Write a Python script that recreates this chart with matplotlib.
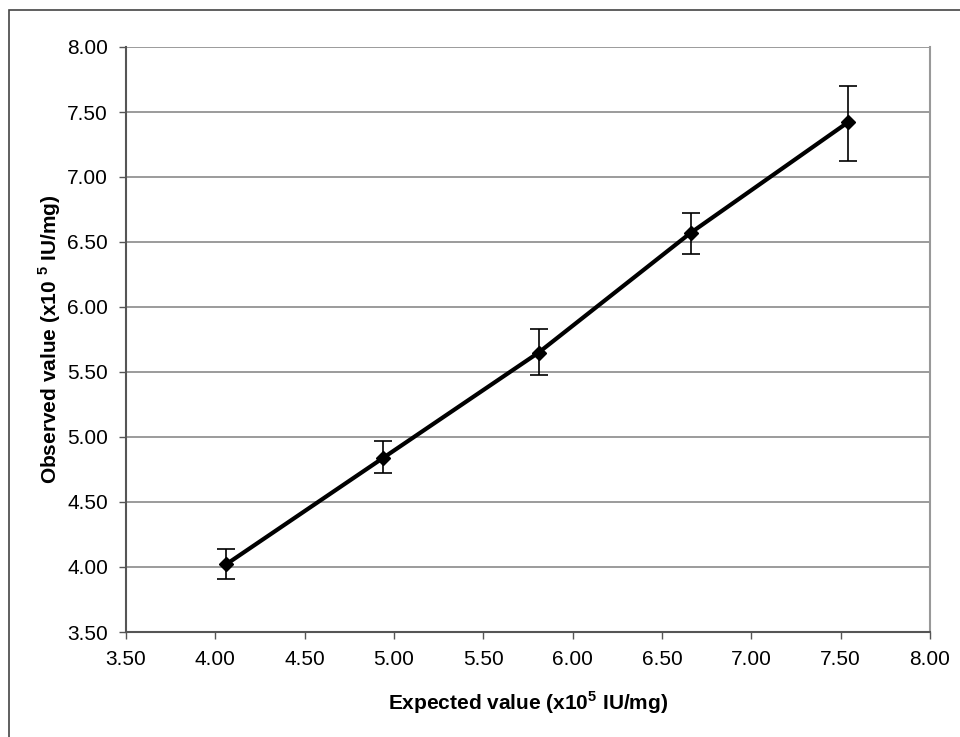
import numpy as np
import matplotlib
matplotlib.use("Agg")
import matplotlib.pyplot as plt
from matplotlib.patches import Rectangle

# values
expected = [4.06, 4.94, 5.81, 6.66, 7.54]
observed = [4.02, 4.84, 5.65, 6.57, 7.42]
err_hi = [4.14, 4.97, 5.83, 6.72, 7.70]
err_lo = [3.91, 4.72, 5.48, 6.41, 7.12]
ticks = [3.5, 4.0, 4.5, 5.0, 5.5, 6.0, 6.5, 7.0, 7.5, 8.0]

plt.rcParams['font.family'] = ['Liberation Sans', 'DejaVu Sans']
plt.rcParams['mathtext.fontset'] = 'custom'
plt.rcParams['mathtext.rm'] = 'Liberation Sans:bold'

obs = np.array(observed)
yerr = [obs - np.array(err_lo), np.array(err_hi) - obs]

fig = plt.figure(figsize=(9.6, 7.37), dpi=100)
fig.patches.append(Rectangle((9 / 960, -0.1), 1.2, 1 - 10 / 737 + 0.1,
                             transform=fig.transFigure, fill=False,
                             edgecolor='#444444', lw=1.2))
ax = fig.add_axes([126 / 960, 105 / 737, 804 / 960, 585 / 737])

ax.errorbar(expected, observed, yerr=yerr, fmt='none', ecolor='black',
            elinewidth=1.2, capsize=6.5, capthick=1.2, zorder=3)
ax.plot(expected, observed, color='black', lw=3, marker='D',
        markersize=7.5, zorder=4)

ax.set_xlim(3.5, 8.0)
ax.set_ylim(3.5, 8.0)
ax.set_xticks(ticks)
ax.set_yticks(ticks)
ax.set_xticklabels([f"{t:.2f}" for t in ticks])
ax.set_yticklabels([f"{t:.2f}" for t in ticks])
ax.yaxis.grid(True, color='#8a8a8a', lw=1.2)
ax.set_axisbelow(True)
ax.tick_params(axis='both', direction='out', length=5, width=1,
               color='#555555', labelsize=15, pad=8)

for s in ['left', 'bottom']:
    ax.spines[s].set_color('#555555')
    ax.spines[s].set_linewidth(1.5)
ax.spines['right'].set_color('#999999')
ax.spines['right'].set_linewidth(1.5)
ax.spines['top'].set_visible(False)

ax.set_xlabel(r'Expected value (x10$^{5}$ IU/mg)', fontsize=15,
              fontweight='bold', labelpad=15)
ax.set_ylabel(r'Observed value (x10 $^{5}$ IU/mg)', fontsize=15,
              fontweight='bold', labelpad=3)

fig.savefig('out.png', dpi=100)
